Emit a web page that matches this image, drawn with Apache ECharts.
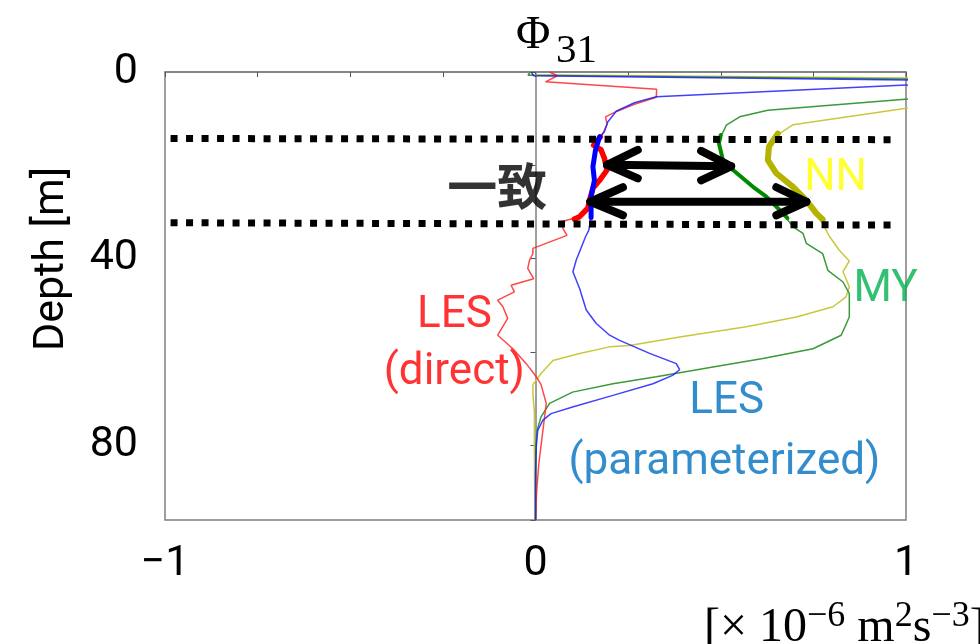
<!DOCTYPE html>
<html><head><meta charset="utf-8">
<script src="https://cdn.jsdelivr.net/npm/echarts@6/dist/echarts.min.js"></script>
<style>html,body{margin:0;padding:0;background:#fff}#c{width:980px;height:644px}</style>
</head><body><div id="c"></div>
<script>
// ---- data: [value (x10^-6 m^2 s^-3), depth (m)] ----
const lesDirect = [[0.038,0],[0.059,0.8],[0.027,2.1],[0.327,3.7],[0.326,5.4],[0.267,6.9],[0.22,8.4],[0.189,9.6],[0.193,11.2],[0.18,13.5],[0.173,14.2],[0.157,15.7],[0.177,16.7],[0.186,18.5],[0.193,21],[0.173,23.2],[0.155,24.9],[0.146,27.5],[0.141,29.2],[0.119,31.0],[0.069,32.1],[0.074,33.5],[0.085,35],[-0.007,37.8],[-0.007,38.9],[-0.016,40.3],[-0.021,42.1],[-0.005,44.3],[-0.066,45.7],[-0.057,47.1],[-0.102,48.9],[-0.088,50.3],[-0.075,52.8],[-0.102,56.4],[-0.061,59.3],[-0.025,62.5],[0.002,65.3],[0.015,67],[0.029,71],[0.02,76.8],[0.009,83.9],[0.003,90],[0,96]];
const lesDirectBold = [[0.175,13.9],[0.157,15.7],[0.177,16.7],[0.186,18.5],[0.193,21],[0.173,23.2],[0.155,24.9],[0.146,27.5],[0.141,29.2],[0.119,31.0],[0.105,31.5]];
const lesParam = [[-0.012,0],[-0.005,0.8],[2.0,2.6],[1.0,2.8],[0.326,5.3],[0.267,6.6],[0.218,8.4],[0.195,10.7],[0.186,12.8],[0.173,13.9],[0.162,16.7],[0.155,20.3],[0.159,23.2],[0.15,26.7],[0.15,31],[0.144,33.9],[0.135,35.3],[0.11,40.3],[0.101,42.8],[0.119,46.4],[0.137,51],[0.164,53.9],[0.2,56.4],[0.227,57.5],[0.308,60.3],[0.38,62.5],[0.389,63.8],[0.37,65],[0.317,66.8],[0.209,69.3],[0.1,71.8],[0.042,73.2],[0.02,74.6],[0.006,76.8],[0.002,80.4],[0,86],[0,96]];
const lesParamBold = [[0.173,13.9],[0.162,16.7],[0.155,20.3],[0.159,23.2],[0.15,26.7],[0.15,31.2]];
const my = [[-0.015,0],[-0.02,0.7],[2.0,2.3],[1.05,5.5],[0.627,8.2],[0.551,9.6],[0.515,11.4],[0.5,13.9],[0.495,15.3],[0.506,18.9],[0.533,21],[0.587,24.6],[0.623,26.7],[0.668,30.3],[0.695,33.2],[0.722,34.6],[0.731,36.7],[0.775,38.9],[0.789,42.5],[0.83,45],[0.847,47.5],[0.847,52.5],[0.825,56.4],[0.749,59.3],[0.614,61.4],[0.479,63.2],[0.326,65.3],[0.209,66.8],[0.1,68.6],[0.038,71],[0.015,73.9],[0.004,76.8],[0.001,80],[0,96]];
const myBold = [[0.5,13.5],[0.495,15.3],[0.506,18.9],[0.533,21],[0.587,24.6],[0.623,26.7],[0.668,30.3],[0.68,31.3]];
const nn = [[-0.015,0],[-0.02,0.6],[2.0,1.9],[1.05,7.2],[0.695,11.3],[0.65,13.7],[0.63,16],[0.627,18.9],[0.65,21.7],[0.695,24.6],[0.731,27.5],[0.758,30.3],[0.775,32.5],[0.794,35.3],[0.82,38.2],[0.847,40.5],[0.83,42.8],[0.847,46],[0.838,48.2],[0.803,50.3],[0.704,52.5],[0.569,54.6],[0.389,56.8],[0.254,58.6],[0.2,58.9],[0.119,60.3],[0.047,61.8],[0.015,64.6],[-0.007,67],[-0.007,69],[-0.003,73],[-0.003,80],[-0.002,96]];
const nnBold = [[0.654,13.2],[0.63,16],[0.627,18.9],[0.65,21.7],[0.695,24.6],[0.731,27.5],[0.758,30.3],[0.775,31.6]];
// band of agreement (dotted lines)
const bandTop = [[-0.985,14.25],[0.974,14.5]];
const bandBottom = [[-0.985,32.3],[0.974,32.8]];
// double arrows (polylines)
const arrowParts = [
  [[0.276,16.7],[0.193,19.9],[0.276,22.8]],
  [[0.193,19.9],[0.528,20.2]],
  [[0.447,16.9],[0.528,20.2],[0.447,23.2]],
  [[0.236,24.7],[0.148,27.8],[0.236,30.7]],
  [[0.148,27.8],[0.731,27.8]],
  [[0.65,24.7],[0.731,27.8],[0.65,30.7]]
];
// tick labels
const xLabelValues = [-1, 0, 1];
const xLabelTexts = ['−1', '0', '1'];
const yLabelValues = [0, 40, 80];
// annotations
const noteTexts = ['一致', 'NN', 'MY', 'LES', '(direct)', 'LES', '(parameterized)'];
const noteAnchors = [[-0.103,24.5],[0.81,23.0],[0.945,46.8],[-0.219,52.3],[-0.219,64.4],[0.516,70.8],[0.51,83.8]];
const noteColors = ['#000000','#ffff00','#00b050','#ff0000','#ff0000','#0070c0','#0070c0'];

const chart = echarts.init(document.getElementById('c'));
const thin = (data, color) => ({type:'line', data, symbol:'none', silent:true, clip:true,
  lineStyle:{color, width:1.5}, z:2});
const thick = (data, color, w) => ({type:'line', data, symbol:'none', silent:true, clip:true,
  lineStyle:{color, width:w, cap:'round', join:'round'}, z:3});
const series = [
  thin(nn, '#c8c83c'), thin(my, '#3a9a3a'), thin(lesDirect, 'rgba(255,40,40,0.85)'), thin(lesParam, 'rgba(30,30,255,0.85)'),
  thick(nnBold, '#b4b400', 6), thick(myBold, '#008a00', 4), thick(lesDirectBold, '#ff0000', 5.5), thick(lesParamBold, '#0000ff', 5),
  {type:'line', data:bandTop, symbol:'none', silent:true, z:4, lineStyle:{color:'#000', width:7, type:[7,8.5], cap:'butt'}},
  {type:'line', data:bandBottom, symbol:'none', silent:true, z:4, lineStyle:{color:'#000', width:7, type:[7,8.5], cap:'butt'}}
];
arrowParts.forEach(p => series.push({type:'line', data:p, symbol:'none', silent:true, z:5,
  lineStyle:{color:'#000', width:8, cap:'round', join:'round'}}));
series.push({type:'scatter', silent:true, z:6, symbolSize:1, itemStyle:{color:'transparent'},
  data: noteTexts.map((t, i) => ({value: noteAnchors[i], label:{show:true, position:'inside', formatter:t,
    color: noteColors[i], fontSize: i === 0 ? 50 : 44, fontWeight: i === 0 ? 'bold' : 'normal',
    fontFamily: i === 0 ? '"Noto Sans CJK JP", sans-serif' : 'Roboto, sans-serif'}}))});

chart.setOption({
  animation:false,
  backgroundColor:'#fff',
  grid:{left:165, top:72, width:741, height:448, show:true, borderColor:'#7f7f7f', borderWidth:1.5, backgroundColor:'transparent'},
  xAxis:{type:'value', min:-1, max:1, interval:0.25,
    axisLine:{lineStyle:{color:'#7f7f7f', width:1.5}},
    axisTick:{show:true, length:5, lineStyle:{color:'#555'}},
    splitLine:{show:false},
    axisLabel:{margin:23, color:'#000', fontSize:43, fontFamily:'"Liberation Sans Narrow", Roboto, sans-serif',
      formatter: v => { const i = xLabelValues.findIndex(a => Math.abs(a - v) < 1e-9); return i >= 0 ? xLabelTexts[i] : ''; }}},
  yAxis:{type:'value', inverse:true, min:0, max:96, interval:20,
    axisLine:{lineStyle:{color:'#7f7f7f', width:1.5}},
    axisTick:{show:true, length:5, lineStyle:{color:'#555'}},
    splitLine:{show:false},
    axisLabel:{margin:27, color:'#000', fontSize:43, fontFamily:'"Liberation Sans Narrow", Roboto, sans-serif',
      formatter: v => yLabelValues.includes(v) ? String(v) : ''}},
  graphic:[
    {type:'text', x:52, y:259, rotation:Math.PI/2, silent:true,
      style:{text:'Depth [m]', font:'normal 43px Roboto, sans-serif', fill:'#000', align:'center', verticalAlign:'middle'}},
    {type:'text', left:516, top:12, silent:true, style:{text:'Φ', font:'47px "Liberation Serif", serif', fill:'#000'}},
    {type:'text', left:556, top:31, silent:true, style:{text:'31', font:'41px "Liberation Serif", serif', fill:'#000'}},
    {type:'text', left:704, top:599, silent:true, style:{
      text:'{m|[× 10}{s|−6}{m| m}{s|2}{m|s}{s|−3}{m|]}', fill:'#000',
      rich:{m:{fontSize:48, fontFamily:'"Liberation Serif", serif', lineHeight:58},
            s:{fontSize:36, fontFamily:'"Liberation Serif", serif', lineHeight:32, verticalAlign:'top'}}}}
  ],
  series
});
</script></body></html>
